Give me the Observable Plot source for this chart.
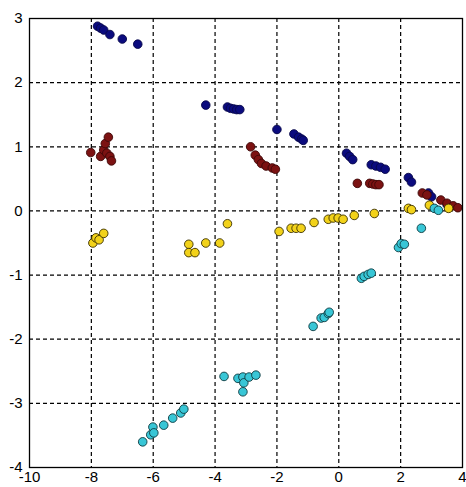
<!DOCTYPE html>
<html>
<head>
<meta charset="utf-8">
<script src="https://cdn.jsdelivr.net/npm/d3@7"></script>
<script src="https://cdn.jsdelivr.net/npm/@observablehq/plot@0.6"></script>
<style>
  html, body { margin: 0; padding: 0; background: #fff; }
  #chart svg { display: block; }
</style>
</head>
<body>
<div id="chart"></div>
<script>
// Series values
const navyX = [-7.8, -7.7, -7.6, -7.4, -7.0, -6.5, -4.3, -3.6, -3.5, -3.4, -3.3, -3.2, -2.0, -1.45, -1.3, -1.2, -1.15, 0.25, 0.35, 0.45, 1.05, 1.2, 1.35, 1.5, 2.25, 2.35, 2.9, 3.0, 3.5];
const navyY = [2.88, 2.85, 2.82, 2.75, 2.68, 2.6, 1.65, 1.62, 1.6, 1.59, 1.58, 1.58, 1.27, 1.2, 1.15, 1.12, 1.1, 0.9, 0.85, 0.8, 0.72, 0.7, 0.68, 0.65, 0.52, 0.45, 0.28, 0.22, 0.1];

const redX = [-8.02, -7.7, -7.6, -7.55, -7.45, -7.5, -7.4, -7.35, -2.85, -2.7, -2.6, -2.5, -2.35, -2.15, -2.05, 0.6, 1.0, 1.1, 1.2, 1.3, 2.7, 2.85, 3.3, 3.5, 3.7, 3.85];
const redY = [0.91, 0.85, 0.95, 1.05, 1.15, 0.9, 0.85, 0.78, 1.0, 0.87, 0.8, 0.74, 0.7, 0.67, 0.65, 0.43, 0.43, 0.42, 0.41, 0.41, 0.28, 0.25, 0.17, 0.12, 0.08, 0.05];

const yellowX = [-7.95, -7.85, -7.75, -7.6, -4.85, -4.85, -4.65, -4.3, -3.85, -3.6, -1.93, -1.54, -1.38, -1.22, -0.8, -0.34, -0.18, -0.02, 0.14, 0.5, 1.15, 2.25, 2.35, 2.93, 3.55];
const yellowY = [-0.5, -0.42, -0.45, -0.35, -0.52, -0.65, -0.65, -0.5, -0.5, -0.2, -0.32, -0.27, -0.27, -0.27, -0.18, -0.13, -0.11, -0.11, -0.13, -0.07, -0.04, 0.04, 0.02, 0.09, 0.04];

const cyanX = [-6.34, -6.08, -6.01, -5.98, -5.66, -5.37, -5.11, -5.01, -3.71, -3.26, -3.1, -3.07, -3.1, -2.9, -2.68, -0.83, -0.57, -0.47, -0.34, -0.31, 0.73, 0.82, 0.95, 1.05, 1.93, 2.02, 2.12, 2.67, 3.09, 3.22];
const cyanY = [-3.6, -3.49, -3.37, -3.46, -3.34, -3.23, -3.15, -3.09, -2.58, -2.61, -2.59, -2.68, -2.82, -2.59, -2.56, -1.8, -1.67, -1.66, -1.6, -1.58, -1.05, -1.02, -0.99, -0.97, -0.57, -0.51, -0.52, -0.27, 0.04, 0.01];

const xTicks = [-10, -8, -6, -4, -2, 0, 2, 4];
const yTicks = [-4, -3, -2, -1, 0, 1, 2, 3];

const seriesNames = ["navy", "red", "yellow", "cyan"];
const seriesFill = ["#0b0b7e", "#7c1212", "#f2d21a", "#38c6d6"];
const seriesStroke = ["#08084a", "#3d0808", "#3a3000", "#0e3a40"];

const toRows = (name, xs, ys) => xs.map((x, i) => ({series: name, x, y: ys[i]}));
const rows = [
  ...toRows("navy", navyX, navyY),
  ...toRows("red", redX, redY),
  ...toRows("yellow", yellowX, yellowY),
  ...toRows("cyan", cyanX, cyanY)
];

const fmt = d => String(d);

const chart = Plot.plot({
  width: 466,
  height: 487,
  marginLeft: 29,
  marginRight: 4,
  marginTop: 18,
  marginBottom: 20,
  style: {fontFamily: "'Liberation Sans', Arial, sans-serif", fontSize: "15px", color: "#000", background: "#fff"},
  x: {domain: [-10, 4], ticks: xTicks, tickFormat: fmt},
  y: {domain: [-4, 3], ticks: yTicks, tickFormat: fmt},
  marks: [
    Plot.ruleX(xTicks.slice(1, -1), {stroke: "#000", strokeDasharray: "4,3", strokeWidth: 1.2}),
    Plot.ruleY(yTicks.slice(1, -1), {stroke: "#000", strokeDasharray: "4,3", strokeWidth: 1.2}),
    Plot.axisX(xTicks, {tickSize: 0, tickPadding: 4, fontSize: 15, fill: "#000", label: null, tickFormat: fmt}),
    Plot.axisY(yTicks, {tickSize: 0, tickPadding: 7, fontSize: 15, fill: "#000", label: null, tickFormat: fmt}),
    Plot.dot(rows, {
      x: "x", y: "y", r: 4.3,
      fill: d => seriesFill[seriesNames.indexOf(d.series)],
      stroke: d => seriesStroke[seriesNames.indexOf(d.series)],
      strokeWidth: 0.9
    }),
    Plot.frame({stroke: "#000", strokeWidth: 1.3})
  ]
});
document.getElementById("chart").appendChild(chart);
</script>
</body>
</html>
